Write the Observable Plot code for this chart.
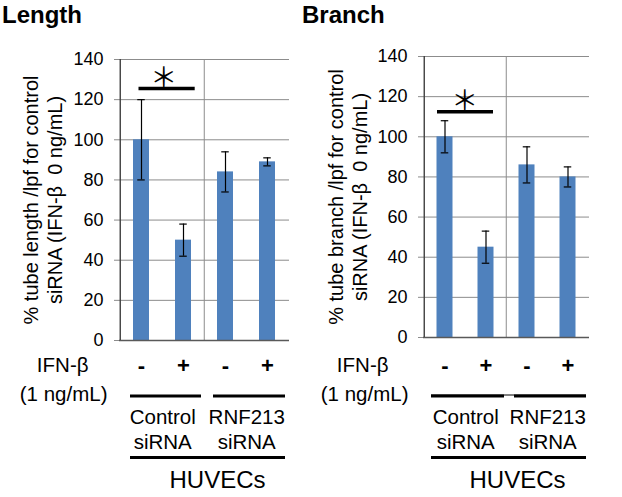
<!DOCTYPE html>
<html><head><meta charset="utf-8">
<script src="https://cdn.jsdelivr.net/npm/d3@7"></script>
<script src="https://cdn.jsdelivr.net/npm/@observablehq/plot@0.6"></script>
<style>
body{margin:0;background:#fff;font-family:"Liberation Sans",Arial,sans-serif;}
#wrap{position:relative;width:622px;height:497px;overflow:hidden;background:#fff;}
.panel{position:absolute;top:0;}
.title{height:30px;line-height:30px;font-weight:bold;font-size:24px;color:#000;white-space:nowrap;}
.panel svg{display:block;}
</style></head><body>
<div id="wrap"></div>
<script>
// ---- data ----
const conditions = ["Control siRNA, IFN-β −", "Control siRNA, IFN-β +", "RNF213 siRNA, IFN-β −", "RNF213 siRNA, IFN-β +"];
const ifnMarks = ["-", "+", "-", "+"];
const groupLabels = ["Control\nsiRNA", "RNF213\nsiRNA"];
const groupFrom = [conditions[0], conditions[2]];
const groupTo = [conditions[1], conditions[3]];
const lengthMean = [100, 50, 84, 89];
const lengthErr = [20, 8, 10, 2];
const branchMean = [100, 45, 86, 80];
const branchErr = [8, 8, 9, 5];
const yTicks = [0, 20, 40, 60, 80, 100, 120, 140];
const lengthTitle = "Length";
const branchTitle = "Branch";
const lengthYTitle = "% tube length /lpf for control\nsiRNA (IFN-β  0 ng/mL)";
const branchYTitle = "% tube branch /lpf for control\nsiRNA (IFN-β  0 ng/mL)";
const ifnLabel = "IFN-β";
const doseLabel = "(1 ng/mL)";
const cellLabel = "HUVECs";
const sigFrom = conditions[0];
const sigTo = conditions[1];
const sigMark = "＊";
const lengthSigLevel = 125.5;
const branchSigLevel = 112.5;

// ---- layout ----
const H = 467, TOP = 30;
const rowsPage = {ifn: 365, dose: 393.5, gline: 395.5, glabel: 427.5, bline: 457, huvecs: 480};
const panels = [
  {title: lengthTitle, mean: lengthMean, err: lengthErr, yTitle: lengthYTitle, sigLevel: lengthSigLevel,
   left: 0, width: 302, titlePad: 2, ml: 119, mr: 13, mt: 29, mb: 157,
   sigInset: [18.5, 9.3], starDx: 1, yTitleDx: -77, ifnDx: -31, doseDx: -12,
   groupInsets: [[10, 3], [9, 3]], bottomInset: [10, 3], huvecsDx: 13, connector: false},
  {title: branchTitle, mean: branchMean, err: branchErr, yTitle: branchYTitle, sigLevel: branchSigLevel,
   left: 302, width: 320, titlePad: 0, ml: 121, mr: 33, mt: 26, mb: 160,
   sigInset: [13, 13], starDx: -1, yTitleDx: -76.5, ifnDx: -35, doseDx: -15,
   groupInsets: [[7, 2], [8, 2]], bottomInset: [7, 2], huvecsDx: 11, connector: true}
];

const wrap = document.getElementById("wrap");
const font = "'Liberation Sans', Arial, sans-serif";

for (const p of panels) {
  const bw = (p.width - p.ml - p.mr) / 4;
  const y0Page = TOP + H - p.mb;
  const dy = (k) => rowsPage[k] - y0Page;
  const data = conditions.map((c, i) => ({c, m: p.mean[i], e: p.err[i], s: ifnMarks[i]}));
  const groups = groupLabels.map((g, i) => ({label: g, from: groupFrom[i], to: groupTo[i], inL: p.groupInsets[i][0], inR: p.groupInsets[i][1]}));
  const sig = [{from: sigFrom, to: sigTo, y: p.sigLevel}];
  const capInset = (bw - 8) / 2;
  const barInset = (bw - 16.5) / 2;

  const marks = [
    Plot.gridY(yTicks, {stroke: "#8c8c8c", strokeOpacity: 1, strokeWidth: 1}),
    Plot.ruleX([conditions[2]], {x: d => d, dx: -bw / 2, stroke: "#8c8c8c", strokeWidth: 1}),
    Plot.axisY(yTicks, {tickSize: 5, tickPadding: 11, stroke: "#8c8c8c", fill: "black", fontSize: 18, label: null}),
    Plot.barY(data, {x: "c", y: "m", fill: "#4F81BD", insetLeft: barInset, insetRight: barInset}),
    Plot.ruleY([0], {stroke: "#595959", strokeWidth: 1.4}),
    Plot.ruleX([conditions[0]], {x: d => d, dx: -bw / 2, stroke: "#404040", strokeWidth: 1.4}),
    Plot.ruleX(data, {x: "c", y1: d => d.m - d.e, y2: d => d.m + d.e, stroke: "black", strokeWidth: 1.2}),
    Plot.tickY(data, {x: "c", y: d => d.m + d.e, stroke: "black", strokeWidth: 1.2, insetLeft: capInset, insetRight: capInset}),
    Plot.tickY(data, {x: "c", y: d => d.m - d.e, stroke: "black", strokeWidth: 1.2, insetLeft: capInset, insetRight: capInset}),
    // significance
    Plot.ruleY(sig, {x1: "from", x2: "to", y: "y", stroke: "black", strokeWidth: 3.5, insetLeft: p.sigInset[0], insetRight: p.sigInset[1]}),
    Plot.text(sig, {x: "from", y: "y", text: () => sigMark, dx: bw / 2 + p.starDx, dy: -10, fontSize: 27, fontFamily: "'Noto Sans CJK JP', sans-serif", fill: "black", lineAnchor: "middle"}),
    // y title
    Plot.text([p.yTitle], {text: d => d, frameAnchor: "left", rotate: -90, dx: p.yTitleDx, lineAnchor: "middle", textAnchor: "middle", fontSize: 20, lineHeight: 1.2, fill: "black"}),
    // IFN row
    Plot.text(data, {x: "c", text: "s", frameAnchor: "bottom", dy: dy("ifn"), lineAnchor: "middle", fontSize: 22, fontWeight: "bold", fill: "black"}),
    Plot.text([ifnLabel], {text: d => d, frameAnchor: "bottom-left", dx: p.ifnDx, dy: dy("ifn"), textAnchor: "end", lineAnchor: "middle", fontSize: 20.5, fill: "black"}),
    Plot.text([doseLabel], {text: d => d, frameAnchor: "bottom-left", dx: p.doseDx, dy: dy("dose"), textAnchor: "end", lineAnchor: "middle", fontSize: 20.5, fill: "black"}),
    // group lines
    ...(p.connector ? [Plot.ruleY([{from: conditions[0], to: conditions[3]}], {x1: "from", x2: "to", y: () => 0, dy: dy("gline") - 1, stroke: "black", strokeWidth: 1, insetLeft: p.groupInsets[0][0], insetRight: p.groupInsets[1][1]})] : []),
    ...groups.map(g => Plot.ruleY([g], {x1: "from", x2: "to", y: () => 0, dy: dy("gline"), stroke: "black", strokeWidth: 3, insetLeft: g.inL, insetRight: g.inR})),
    Plot.text(groups, {x: "from", text: "label", frameAnchor: "bottom", dx: bw / 2, dy: dy("glabel"), lineAnchor: "middle", fontSize: 20.5, lineHeight: 25 / 20.5, fill: "black"}),
    Plot.ruleY([{from: conditions[0], to: conditions[3]}], {x1: "from", x2: "to", y: () => 0, dy: dy("bline"), stroke: "black", strokeWidth: 3, insetLeft: p.bottomInset[0], insetRight: p.bottomInset[1]}),
    Plot.text([cellLabel], {text: d => d, frameAnchor: "bottom", dx: p.huvecsDx, dy: dy("huvecs"), lineAnchor: "middle", fontSize: 24, fill: "black"})
  ];

  const chart = Plot.plot({
    width: p.width, height: H,
    marginLeft: p.ml, marginRight: p.mr, marginTop: p.mt, marginBottom: p.mb,
    x: {type: "band", domain: conditions, padding: 0, axis: null},
    y: {domain: [0, 140], axis: null},
    style: {fontFamily: font, fontSize: "18px", color: "black", background: "white", overflow: "visible"},
    marks
  });

  const div = document.createElement("div");
  div.className = "panel";
  div.style.left = p.left + "px";
  div.style.width = p.width + "px";
  const t = document.createElement("div");
  t.className = "title";
  t.style.paddingLeft = p.titlePad + "px";
  t.textContent = p.title;
  div.appendChild(t);
  div.appendChild(chart);
  wrap.appendChild(div);
}
</script>
</body></html>
